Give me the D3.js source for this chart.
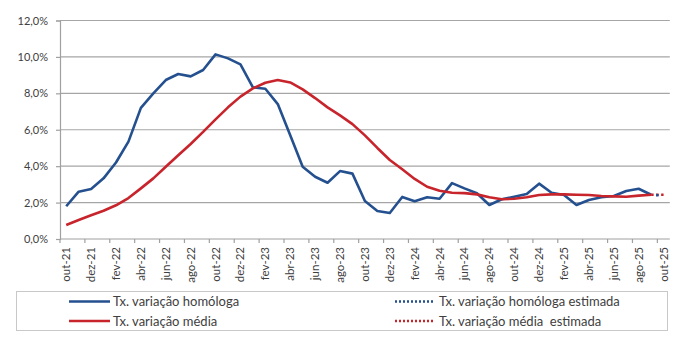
<!DOCTYPE html>
<html>
<head>
<meta charset="utf-8">
<script src="https://cdn.jsdelivr.net/npm/d3@7"></script>
<style>
html, body { margin: 0; padding: 0; background: #fff; }
svg { display: block; }
text { font-family: Lato, "Open Sans", sans-serif; }
</style>
</head>
<body>
<svg id="chart" width="696" height="348"></svg>
<script>
const categories = ["out-21","nov-21","dez-21","jan-22","fev-22","mar-22","abr-22","mai-22","jun-22","jul-22","ago-22","set-22",
  "out-22","nov-22","dez-22","jan-23","fev-23","mar-23","abr-23","mai-23","jun-23","jul-23","ago-23","set-23",
  "out-23","nov-23","dez-23","jan-24","fev-24","mar-24","abr-24","mai-24","jun-24","jul-24","ago-24","set-24",
  "out-24","nov-24","dez-24","jan-25","fev-25","mar-25","abr-25","mai-25","jun-25","jul-25","ago-25","set-25","out-25"];

const homologa = [1.8, 2.6, 2.75, 3.33, 4.2, 5.35, 7.2, 8.0, 8.73, 9.06, 8.93, 9.28,
  10.14, 9.92, 9.59, 8.33, 8.25, 7.41, 5.7, 3.97, 3.42, 3.09, 3.73, 3.59,
  2.09, 1.54, 1.43, 2.31, 2.07, 2.29, 2.21, 3.07, 2.78, 2.51, 1.87, 2.18,
  2.32, 2.47, 3.04, 2.54, 2.42, 1.87, 2.14, 2.29, 2.36, 2.64, 2.76, 2.43];
const homologaEstimada = [2.43, 2.38];   // set-25 -> out-25

const media = [0.77, 1.04, 1.3, 1.55, 1.85, 2.25, 2.78, 3.33, 3.97, 4.6, 5.22, 5.88,
  6.57, 7.23, 7.82, 8.27, 8.58, 8.73, 8.6, 8.22, 7.74, 7.23, 6.79, 6.31,
  5.69, 5.0, 4.34, 3.83, 3.3, 2.87, 2.65, 2.54, 2.52, 2.45, 2.29, 2.18,
  2.21, 2.29, 2.42, 2.45, 2.45, 2.43, 2.42, 2.36, 2.34, 2.32, 2.38, 2.43];
const mediaEstimada = [2.43, 2.43];      // set-25 -> out-25

const yTicks = [0, 2, 4, 6, 8, 10, 12];
const legendLabels = ["Tx. variação homóloga", "Tx. variação média", "Tx. variação homóloga estimada", "Tx. variação média  estimada"];

const BLUE = "#24508f", RED = "#c8242c";

const svg = d3.select("#chart");
svg.append("rect").attr("width", 696).attr("height", 348).attr("fill", "#fff");

const x = d3.scaleBand().domain(categories).range([60, 669.8]).padding(0);
const y = d3.scaleLinear().domain([0, 12]).range([239, 20.5]);
const cx = c => x(c) + x.bandwidth() / 2;

// gridlines
svg.append("g").selectAll("line").data(yTicks.filter(d => d > 0)).join("line")
  .attr("x1", 60).attr("x2", 669.8)
  .attr("y1", d => y(d)).attr("y2", d => y(d))
  .attr("stroke", "#a6a6a6").attr("stroke-width", 1.2);

// y axis
const yAxis = svg.append("g").attr("transform", "translate(60,0)")
  .call(d3.axisLeft(y).tickValues(yTicks).tickSize(4).tickPadding(8)
    .tickFormat(d => d.toFixed(1).replace(".", ",") + "%"));
yAxis.select(".domain").attr("stroke", "#a0a0a0").attr("stroke-width", 1.2);
yAxis.selectAll(".tick line").attr("stroke", "#a0a0a0").attr("stroke-width", 1.2);
yAxis.selectAll("text").attr("fill", "#404040").style("font-size", "11px").style("font-family", "Lato, sans-serif");

// x axis line
svg.append("line").attr("x1", 60).attr("x2", 669.8).attr("y1", 239).attr("y2", 239)
  .attr("stroke", "#a0a0a0").attr("stroke-width", 1.2);
// x ticks at band boundaries every 2 categories
svg.append("g").selectAll("line").data(categories.filter((c, i) => i % 2 === 0)).join("line")
  .attr("x1", d => x(d)).attr("x2", d => x(d)).attr("y1", 239).attr("y2", 243)
  .attr("stroke", "#a0a0a0").attr("stroke-width", 1.2);
// x labels
svg.append("g").selectAll("text").data(categories.filter((c, i) => i % 2 === 0)).join("text")
  .attr("transform", d => `translate(${cx(d) + 4},247) rotate(-90)`)
  .attr("text-anchor", "end")
  .attr("fill", "#404040").style("font-size", "11.5px")
  .text(d => d);

// lines
const line = d3.line().x(d => cx(d.c)).y(d => y(d.v));
const seriesPts = arr => arr.map((v, i) => ({ c: categories[i], v }));
const estPts = arr => arr.map((v, i) => ({ c: categories[homologa.length - 1 + i], v }));

svg.append("path").attr("d", line(seriesPts(homologa)))
  .attr("fill", "none").attr("stroke", BLUE).attr("stroke-width", 2.6).attr("stroke-linejoin", "round");
svg.append("path").attr("d", line(seriesPts(media)))
  .attr("fill", "none").attr("stroke", RED).attr("stroke-width", 2.6).attr("stroke-linejoin", "round");
svg.append("path").attr("d", line(estPts(mediaEstimada)))
  .attr("fill", "none").attr("stroke", RED).attr("stroke-width", 2.6).attr("stroke-dasharray", "2.5,2.5");
svg.append("path").attr("d", line(estPts(homologaEstimada)))
  .attr("fill", "none").attr("stroke", BLUE).attr("stroke-width", 2.6).attr("stroke-dasharray", "2.5,5").attr("stroke-dashoffset", 2.5);

// legend
svg.append("rect").attr("x", 16.5).attr("y", 291.5).attr("width", 651).attr("height", 39)
  .attr("fill", "#fff").attr("stroke", "#c8c8c8").attr("stroke-width", 1);
const legendItems = [
  { label: legendLabels[0], color: BLUE, dash: null, x: 69, y: 301.5 },
  { label: legendLabels[1], color: RED, dash: null, x: 69, y: 321 },
  { label: legendLabels[2], color: BLUE, dash: "2,2", x: 395, y: 301.5 },
  { label: legendLabels[3], color: RED, dash: "2,2", x: 395, y: 321 }
];
const lg = svg.append("g").selectAll("g").data(legendItems).join("g");
lg.append("line").attr("x1", d => d.x).attr("x2", d => d.x + (d.dash ? 39 : 41))
  .attr("y1", d => d.y).attr("y2", d => d.y)
  .attr("stroke", d => d.color).attr("stroke-width", 2.6)
  .attr("stroke-dasharray", d => d.dash);
lg.append("text").attr("x", d => d.x + 44).attr("y", d => d.y + 4.5)
  .attr("fill", "#404040").style("font-size", "13px").style("white-space", "pre")
  .attr("xml:space", "preserve")
  .text(d => d.label);
</script>
</body>
</html>
